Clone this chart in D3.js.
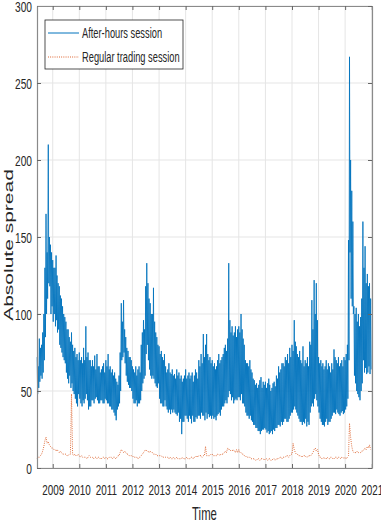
<!DOCTYPE html>
<html>
<head>
<meta charset="utf-8">
<script src="https://cdn.jsdelivr.net/npm/d3@7"></script>
<style>
  body { margin: 0; background: #fff; }
  svg { display: block; }
  text { font-family: "Liberation Sans", Arial, sans-serif; fill: #262626; }
</style>
</head>
<body>
<div id="chart-container"></div>
<script>
// After-hours session spread, 4 readings a month (days 1, 8, 16, 23), Jun 2008 - Dec 2020
var ah2008 = [72, 48, 66, 52, 84, 56, 78, 60, 80, 58, 88, 62, 100, 70, 130, 85, 165, 100, 140, 110, 210, 120, 150, 118, 145, 100, 140, 105];
var ah2009 = [135, 95, 130, 100, 130, 92, 138, 96, 125, 88, 120, 90, 118, 80, 112, 78, 110, 75, 105, 72, 100, 70, 98, 68, 95, 62, 90, 58, 90, 55, 85, 60, 82, 52, 88, 55, 80, 50, 76, 48, 78, 45, 72, 42, 74, 40, 70, 48];
var ah2010 = [75, 45, 70, 42, 72, 40, 68, 44, 78, 42, 70, 45, 92, 48, 72, 44, 75, 38, 70, 40, 70, 40, 66, 44, 70, 44, 66, 42, 73, 45, 64, 46, 74, 44, 66, 42, 66, 42, 62, 44, 64, 44, 66, 42, 68, 42, 62, 45];
var ah2011 = [70, 44, 66, 42, 74, 42, 64, 40, 66, 40, 62, 38, 64, 38, 60, 36, 62, 34, 58, 31, 56, 38, 54, 40, 60, 42, 75, 50, 107, 70, 95, 72, 109, 75, 90, 68, 85, 60, 78, 56, 76, 54, 72, 52, 72, 52, 70, 50];
var ah2012 = [66, 45, 64, 42, 62, 42, 66, 44, 60, 40, 64, 42, 66, 42, 62, 44, 80, 50, 88, 55, 96, 58, 90, 60, 118, 74, 133, 80, 120, 70, 110, 64, 107, 60, 100, 58, 100, 60, 117, 58, 95, 55, 88, 53, 85, 52, 80, 55];
var ah2013 = [79, 45, 74, 42, 76, 42, 72, 40, 70, 40, 74, 44, 66, 40, 62, 38, 64, 36, 68, 38, 62, 35, 61, 38, 64, 36, 60, 38, 61, 36, 58, 35, 64, 34, 60, 36, 62, 30, 58, 32, 60, 22, 56, 30, 58, 30, 60, 34];
var ah2014 = [64, 34, 58, 32, 60, 30, 62, 34, 58, 32, 60, 29, 62, 34, 56, 30, 60, 30, 64, 33, 62, 32, 58, 34, 70, 34, 66, 32, 74, 36, 68, 34, 87, 34, 72, 31, 80, 36, 87, 32, 74, 35, 70, 33, 72, 34, 68, 32];
var ah2015 = [70, 34, 66, 32, 68, 33, 64, 31, 66, 34, 70, 35, 74, 36, 68, 34, 70, 38, 72, 40, 74, 40, 78, 42, 80, 44, 76, 42, 84, 46, 133, 50, 96, 48, 88, 44, 92, 46, 86, 42, 88, 44, 92, 45, 85, 44, 90, 46];
var ah2016 = [92, 46, 88, 44, 100, 48, 90, 42, 84, 42, 80, 40, 70, 36, 68, 34, 68, 34, 66, 32, 70, 34, 64, 31, 62, 30, 58, 28, 57, 28, 54, 26, 55, 26, 52, 24, 54, 24, 57, 22, 59, 24, 52, 25, 56, 25, 54, 26];
var ah2017 = [56, 25, 52, 23, 55, 24, 58, 22, 54, 23, 50, 24, 52, 22, 55, 25, 56, 24, 53, 26, 60, 26, 58, 28, 66, 28, 62, 27, 64, 30, 68, 28, 68, 30, 66, 32, 72, 32, 70, 30, 74, 30, 68, 32, 78, 34, 72, 36];
var ah2018 = [80, 36, 76, 38, 96, 40, 82, 38, 79, 36, 74, 34, 72, 32, 76, 30, 70, 30, 68, 28, 79, 30, 66, 29, 70, 32, 68, 27, 72, 30, 66, 28, 82, 36, 80, 40, 109, 42, 90, 40, 122, 45, 100, 48, 120, 44, 96, 40];
var ah2019 = [72, 36, 68, 32, 70, 30, 66, 28, 68, 28, 64, 27, 66, 30, 70, 32, 64, 28, 68, 30, 66, 30, 62, 32, 68, 34, 64, 36, 77, 36, 72, 35, 70, 38, 68, 36, 72, 35, 66, 34, 68, 36, 70, 37, 66, 35, 72, 36];
var ah2020 = [70, 38, 74, 40, 80, 45, 148, 70, 267, 140, 200, 110, 180, 105, 160, 100, 105, 60, 100, 55, 104, 50, 95, 48, 100, 46, 92, 44, 98, 50, 110, 55, 160, 70, 130, 62, 144, 65, 120, 61, 126, 62, 118, 66, 120, 61, 110, 64];

// Regular trading session spread, 2 readings a month (days 1, 16)
var rt2008 = [6, 7, 7, 8, 9, 11, 14, 18, 20, 16, 17, 15, 14, 13];
var rt2009 = [13, 12, 12, 11, 12, 11, 10, 11, 10, 9, 9, 9, 9, 8, 8, 9, 9, 48, 9, 8, 9, 8, 8, 9];
var rt2010 = [8, 7, 8, 7, 7, 7, 7, 6, 7, 8, 7, 7, 7, 6, 7, 7, 6, 7, 7, 6, 6, 7, 7, 6];
var rt2011 = [7, 6, 6, 7, 7, 7, 6, 7, 7, 6, 7, 8, 8, 10, 12, 11, 10, 11, 10, 9, 9, 8, 8, 8];
var rt2012 = [8, 7, 7, 7, 7, 6, 7, 7, 8, 9, 10, 11, 12, 11, 11, 10, 11, 10, 10, 9, 9, 9, 8, 8];
var rt2013 = [8, 8, 8, 7, 7, 7, 7, 7, 7, 6, 7, 6, 6, 7, 6, 6, 7, 6, 6, 6, 6, 7, 6, 6];
var rt2014 = [6, 7, 6, 6, 6, 7, 7, 6, 7, 7, 8, 7, 8, 8, 8, 7, 8, 8, 14, 8, 8, 8, 8, 9];
var rt2015 = [9, 8, 8, 8, 8, 9, 9, 8, 9, 9, 9, 10, 11, 10, 13, 12, 12, 11, 11, 12, 11, 10, 12, 10];
var rt2016 = [12, 10, 10, 9, 9, 8, 8, 7, 7, 7, 7, 6, 6, 6, 6, 5, 5, 6, 6, 5, 6, 6, 6, 5];
var rt2017 = [6, 6, 5, 6, 6, 5, 5, 6, 6, 5, 6, 6, 6, 7, 7, 6, 7, 7, 7, 8, 8, 7, 8, 9];
var rt2018 = [9, 16, 12, 10, 9, 9, 8, 8, 8, 7, 8, 8, 8, 7, 7, 8, 8, 8, 9, 10, 12, 13, 11, 12];
var rt2019 = [9, 7, 7, 6, 6, 7, 6, 6, 7, 6, 6, 7, 7, 6, 6, 7, 7, 6, 7, 7, 6, 7, 7, 6];
var rt2020 = [7, 6, 7, 8, 29, 20, 14, 11, 10, 10, 10, 11, 10, 10, 10, 11, 11, 12, 13, 12, 14, 13, 15, 12];

var yearTicks = [2009, 2010, 2011, 2012, 2013, 2014, 2015, 2016, 2017, 2018, 2019, 2020, 2021];
var spreadTicks = [0, 50, 100, 150, 200, 250, 300];
var seriesNames = ["After-hours session", "Regular trading session"];

var ahByYear = [ah2008, ah2009, ah2010, ah2011, ah2012, ah2013, ah2014, ah2015, ah2016, ah2017, ah2018, ah2019, ah2020];
var rtByYear = [rt2008, rt2009, rt2010, rt2011, rt2012, rt2013, rt2014, rt2015, rt2016, rt2017, rt2018, rt2019, rt2020];

// attach dates: year rows start in June for 2008, January otherwise
function buildSeries(rows, days) {
    var out = [];
    rows.forEach(function(row, yi) {
        var year = 2008 + yi;
        var m0 = year === 2008 ? 5 : 0;
        row.forEach(function(v, k) {
            var month = m0 + Math.floor(k / days.length);
            out.push({ date: new Date(year, month, days[k % days.length]), value: v });
        });
    });
    return out;
}
var afterHours = buildSeries(ahByYear, [1, 8, 16, 23]);
var regular = buildSeries(rtByYear, [1, 16]);

var svgWidth = 381, svgHeight = 523;
var margin = { top: 6, right: 9, bottom: 55, left: 37 };
var width = svgWidth - margin.left - margin.right;
var height = svgHeight - margin.top - margin.bottom;
var axisColor = "#8a8a8a";

var svg = d3.select("#chart-container").append("svg")
    .attr("width", svgWidth).attr("height", svgHeight)
    .append("g")
    .attr("transform", "translate(" + margin.left + "," + margin.top + ")");

var x = d3.scaleTime()
    .domain([new Date(2008, 4, 30), new Date(2021, 0, 4)])
    .range([0, width]);
var y = d3.scaleLinear().domain([0, 300]).range([height, 0]);

var yearDates = yearTicks.map(function(yr) { return new Date(yr, 0, 1); });

// grid
svg.append("g").selectAll("line").data(yearDates).enter().append("line")
    .attr("x1", function(d) { return x(d); }).attr("x2", function(d) { return x(d); })
    .attr("y1", 0).attr("y2", height)
    .attr("stroke", "#e5e5e5").attr("stroke-width", 1);
svg.append("g").selectAll("line").data(spreadTicks).enter().append("line")
    .attr("x1", 0).attr("x2", width)
    .attr("y1", function(d) { return y(d); }).attr("y2", function(d) { return y(d); })
    .attr("stroke", "#e5e5e5").attr("stroke-width", 1);

// series
svg.append("path")
    .datum(afterHours)
    .attr("fill", "none")
    .attr("stroke", "#0072BD")
    .attr("stroke-width", 0.85)
    .attr("d", d3.line().x(function(d) { return x(d.date); }).y(function(d) { return y(d.value); }));

svg.append("path")
    .datum(regular)
    .attr("fill", "none")
    .attr("stroke", "#D95319")
    .attr("stroke-width", 0.9)
    .attr("stroke-dasharray", "0.9,1.3")
    .attr("d", d3.line().x(function(d) { return x(d.date); }).y(function(d) { return y(d.value); }));

// axes, ticks pointing inward
function styleAxis(g) {
    g.select(".domain").attr("stroke", axisColor).attr("stroke-width", 1.2);
    g.selectAll(".tick line").attr("stroke", "#666");
}
var gx = svg.append("g").attr("transform", "translate(0," + height + ")")
    .call(d3.axisBottom(x).tickValues(yearDates).tickFormat(d3.timeFormat("%Y"))
        .tickSizeInner(-4).tickSizeOuter(0)).call(styleAxis);
gx.selectAll(".tick text")
    .attr("y", 0).attr("dy", 0)
    .attr("transform", "translate(0,27) scale(0.66,1)")
    .style("font-size", "15px").attr("fill", "#262626");

var gy = svg.append("g")
    .call(d3.axisLeft(y).tickValues(spreadTicks).tickSizeInner(-4).tickSizeOuter(0)).call(styleAxis);
gy.selectAll(".tick text")
    .attr("x", 0).attr("dy", "0.36em")
    .attr("transform", "translate(-5,0) scale(0.68,1)")
    .style("font-size", "15px").attr("fill", "#262626");

svg.append("g")
    .call(d3.axisTop(x).tickValues(yearDates).tickFormat("").tickSizeInner(-4).tickSizeOuter(0)).call(styleAxis);
svg.append("g").attr("transform", "translate(" + width + ",0)")
    .call(d3.axisRight(y).tickValues(spreadTicks).tickFormat("").tickSizeInner(-4).tickSizeOuter(0)).call(styleAxis);

// axis labels
svg.append("text")
    .attr("transform", "translate(" + (width / 2) + "," + (height + 52) + ") scale(0.63,1)")
    .style("text-anchor", "middle").style("font-size", "18px")
    .text("Time");
svg.append("text")
    .attr("transform", "translate(" + (12.5 - margin.left) + "," + (245 - margin.top) + ") scale(0.6,1) rotate(-90)")
    .style("text-anchor", "middle").style("font-size", "21px")
    .text("Absolute spread");

// legend
var legend = svg.append("g").attr("transform", "translate(8,14)");
legend.append("rect")
    .attr("width", 138).attr("height", 49)
    .attr("fill", "#fff").attr("stroke", "#262626").attr("stroke-width", 0.8);
var colors = ["#0072BD", "#D95319"];
seriesNames.forEach(function(name, i) {
    var ly = 13 + i * 24;
    legend.append("line")
        .attr("x1", 3).attr("x2", 34).attr("y1", ly).attr("y2", ly)
        .attr("stroke", colors[i]).attr("stroke-width", 1)
        .attr("stroke-dasharray", i === 1 ? "0.9,1.3" : null);
    legend.append("text")
        .attr("transform", "translate(37," + (ly + 5.3) + ") scale(0.62,1)")
        .style("font-size", "15px")
        .text(name);
});
</script>
</body>
</html>
